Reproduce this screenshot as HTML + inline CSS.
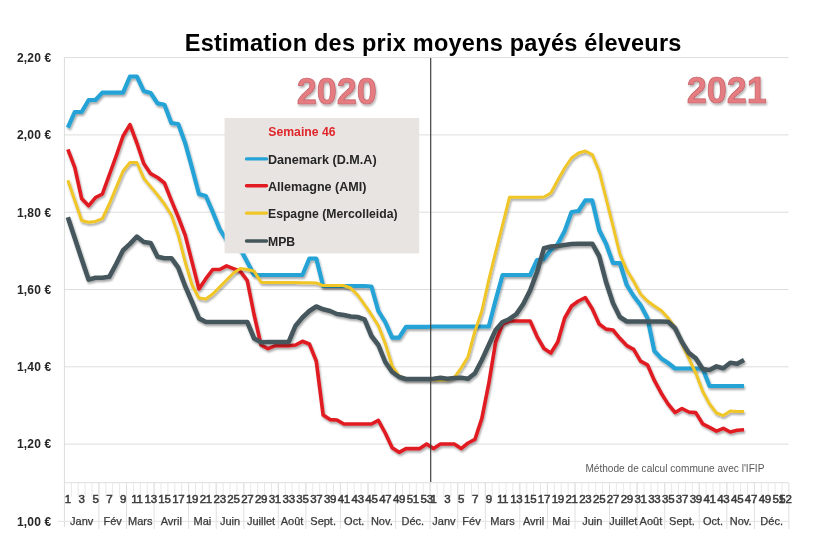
<!DOCTYPE html>
<html><head><meta charset="utf-8"><style>
html,body{margin:0;padding:0;background:#fff;width:820px;height:549px;overflow:hidden;}
svg{display:block;filter:blur(0.35px);}
text{font-family:"Liberation Sans",sans-serif;}
</style></head><body>
<svg width="820" height="549" viewBox="0 0 820 549">
<defs>
<filter id="sh" x="-10%" y="-10%" width="120%" height="120%">
<feGaussianBlur in="SourceAlpha" stdDeviation="1.2"/>
<feOffset dx="1.2" dy="1.6" result="o"/>
<feComponentTransfer><feFuncA type="linear" slope="0.35"/></feComponentTransfer>
<feMerge><feMergeNode/><feMergeNode in="SourceGraphic"/></feMerge>
</filter>
<filter id="tsh" x="-20%" y="-20%" width="140%" height="140%">
<feGaussianBlur in="SourceAlpha" stdDeviation="1"/>
<feOffset dx="1" dy="1.5" result="o"/>
<feComponentTransfer><feFuncA type="linear" slope="0.3"/></feComponentTransfer>
<feMerge><feMergeNode/><feMergeNode in="SourceGraphic"/></feMerge>
</filter>
</defs>
<rect width="820" height="549" fill="#fff"/>
<line x1="64.4" y1="57.6" x2="788.5" y2="57.6" stroke="#dedede" stroke-width="1"/>
<line x1="64.4" y1="134.9" x2="788.5" y2="134.9" stroke="#dedede" stroke-width="1"/>
<line x1="64.4" y1="212.2" x2="788.5" y2="212.2" stroke="#dedede" stroke-width="1"/>
<line x1="64.4" y1="289.5" x2="788.5" y2="289.5" stroke="#dedede" stroke-width="1"/>
<line x1="64.4" y1="366.8" x2="788.5" y2="366.8" stroke="#dedede" stroke-width="1"/>
<line x1="64.4" y1="444.1" x2="788.5" y2="444.1" stroke="#dedede" stroke-width="1"/>
<line x1="58" y1="521.4" x2="788.5" y2="521.4" stroke="#e4e4e4" stroke-width="1"/>
<line x1="64.4" y1="57.6" x2="64.4" y2="527" stroke="#dcdcdc" stroke-width="1"/>
<line x1="64.4" y1="482.7" x2="788.5" y2="482.7" stroke="#dedede" stroke-width="1"/>
<line x1="71.30" y1="482.7" x2="71.30" y2="497" stroke="#e8e8e8" stroke-width="1"/>
<line x1="78.20" y1="482.7" x2="78.20" y2="497" stroke="#e8e8e8" stroke-width="1"/>
<line x1="85.10" y1="482.7" x2="85.10" y2="497" stroke="#e8e8e8" stroke-width="1"/>
<line x1="92.00" y1="482.7" x2="92.00" y2="497" stroke="#e8e8e8" stroke-width="1"/>
<line x1="98.90" y1="482.7" x2="98.90" y2="497" stroke="#e8e8e8" stroke-width="1"/>
<line x1="105.80" y1="482.7" x2="105.80" y2="497" stroke="#e8e8e8" stroke-width="1"/>
<line x1="112.70" y1="482.7" x2="112.70" y2="497" stroke="#e8e8e8" stroke-width="1"/>
<line x1="119.60" y1="482.7" x2="119.60" y2="497" stroke="#e8e8e8" stroke-width="1"/>
<line x1="126.50" y1="482.7" x2="126.50" y2="497" stroke="#e8e8e8" stroke-width="1"/>
<line x1="133.40" y1="482.7" x2="133.40" y2="497" stroke="#e8e8e8" stroke-width="1"/>
<line x1="140.30" y1="482.7" x2="140.30" y2="497" stroke="#e8e8e8" stroke-width="1"/>
<line x1="147.20" y1="482.7" x2="147.20" y2="497" stroke="#e8e8e8" stroke-width="1"/>
<line x1="154.10" y1="482.7" x2="154.10" y2="497" stroke="#e8e8e8" stroke-width="1"/>
<line x1="161.00" y1="482.7" x2="161.00" y2="497" stroke="#e8e8e8" stroke-width="1"/>
<line x1="167.90" y1="482.7" x2="167.90" y2="497" stroke="#e8e8e8" stroke-width="1"/>
<line x1="174.80" y1="482.7" x2="174.80" y2="497" stroke="#e8e8e8" stroke-width="1"/>
<line x1="181.70" y1="482.7" x2="181.70" y2="497" stroke="#e8e8e8" stroke-width="1"/>
<line x1="188.60" y1="482.7" x2="188.60" y2="497" stroke="#e8e8e8" stroke-width="1"/>
<line x1="195.50" y1="482.7" x2="195.50" y2="497" stroke="#e8e8e8" stroke-width="1"/>
<line x1="202.40" y1="482.7" x2="202.40" y2="497" stroke="#e8e8e8" stroke-width="1"/>
<line x1="209.30" y1="482.7" x2="209.30" y2="497" stroke="#e8e8e8" stroke-width="1"/>
<line x1="216.20" y1="482.7" x2="216.20" y2="497" stroke="#e8e8e8" stroke-width="1"/>
<line x1="223.10" y1="482.7" x2="223.10" y2="497" stroke="#e8e8e8" stroke-width="1"/>
<line x1="230.00" y1="482.7" x2="230.00" y2="497" stroke="#e8e8e8" stroke-width="1"/>
<line x1="236.90" y1="482.7" x2="236.90" y2="497" stroke="#e8e8e8" stroke-width="1"/>
<line x1="243.80" y1="482.7" x2="243.80" y2="497" stroke="#e8e8e8" stroke-width="1"/>
<line x1="250.70" y1="482.7" x2="250.70" y2="497" stroke="#e8e8e8" stroke-width="1"/>
<line x1="257.60" y1="482.7" x2="257.60" y2="497" stroke="#e8e8e8" stroke-width="1"/>
<line x1="264.50" y1="482.7" x2="264.50" y2="497" stroke="#e8e8e8" stroke-width="1"/>
<line x1="271.40" y1="482.7" x2="271.40" y2="497" stroke="#e8e8e8" stroke-width="1"/>
<line x1="278.30" y1="482.7" x2="278.30" y2="497" stroke="#e8e8e8" stroke-width="1"/>
<line x1="285.20" y1="482.7" x2="285.20" y2="497" stroke="#e8e8e8" stroke-width="1"/>
<line x1="292.10" y1="482.7" x2="292.10" y2="497" stroke="#e8e8e8" stroke-width="1"/>
<line x1="299.00" y1="482.7" x2="299.00" y2="497" stroke="#e8e8e8" stroke-width="1"/>
<line x1="305.90" y1="482.7" x2="305.90" y2="497" stroke="#e8e8e8" stroke-width="1"/>
<line x1="312.80" y1="482.7" x2="312.80" y2="497" stroke="#e8e8e8" stroke-width="1"/>
<line x1="319.70" y1="482.7" x2="319.70" y2="497" stroke="#e8e8e8" stroke-width="1"/>
<line x1="326.60" y1="482.7" x2="326.60" y2="497" stroke="#e8e8e8" stroke-width="1"/>
<line x1="333.50" y1="482.7" x2="333.50" y2="497" stroke="#e8e8e8" stroke-width="1"/>
<line x1="340.40" y1="482.7" x2="340.40" y2="497" stroke="#e8e8e8" stroke-width="1"/>
<line x1="347.30" y1="482.7" x2="347.30" y2="497" stroke="#e8e8e8" stroke-width="1"/>
<line x1="354.20" y1="482.7" x2="354.20" y2="497" stroke="#e8e8e8" stroke-width="1"/>
<line x1="361.10" y1="482.7" x2="361.10" y2="497" stroke="#e8e8e8" stroke-width="1"/>
<line x1="368.00" y1="482.7" x2="368.00" y2="497" stroke="#e8e8e8" stroke-width="1"/>
<line x1="374.90" y1="482.7" x2="374.90" y2="497" stroke="#e8e8e8" stroke-width="1"/>
<line x1="381.80" y1="482.7" x2="381.80" y2="497" stroke="#e8e8e8" stroke-width="1"/>
<line x1="388.70" y1="482.7" x2="388.70" y2="497" stroke="#e8e8e8" stroke-width="1"/>
<line x1="395.60" y1="482.7" x2="395.60" y2="497" stroke="#e8e8e8" stroke-width="1"/>
<line x1="402.50" y1="482.7" x2="402.50" y2="497" stroke="#e8e8e8" stroke-width="1"/>
<line x1="409.40" y1="482.7" x2="409.40" y2="497" stroke="#e8e8e8" stroke-width="1"/>
<line x1="416.30" y1="482.7" x2="416.30" y2="497" stroke="#e8e8e8" stroke-width="1"/>
<line x1="423.20" y1="482.7" x2="423.20" y2="497" stroke="#e8e8e8" stroke-width="1"/>
<line x1="430.10" y1="482.7" x2="430.10" y2="497" stroke="#e8e8e8" stroke-width="1"/>
<line x1="437.00" y1="482.7" x2="437.00" y2="497" stroke="#e8e8e8" stroke-width="1"/>
<line x1="443.90" y1="482.7" x2="443.90" y2="497" stroke="#e8e8e8" stroke-width="1"/>
<line x1="450.80" y1="482.7" x2="450.80" y2="497" stroke="#e8e8e8" stroke-width="1"/>
<line x1="457.70" y1="482.7" x2="457.70" y2="497" stroke="#e8e8e8" stroke-width="1"/>
<line x1="464.60" y1="482.7" x2="464.60" y2="497" stroke="#e8e8e8" stroke-width="1"/>
<line x1="471.50" y1="482.7" x2="471.50" y2="497" stroke="#e8e8e8" stroke-width="1"/>
<line x1="478.40" y1="482.7" x2="478.40" y2="497" stroke="#e8e8e8" stroke-width="1"/>
<line x1="485.30" y1="482.7" x2="485.30" y2="497" stroke="#e8e8e8" stroke-width="1"/>
<line x1="492.20" y1="482.7" x2="492.20" y2="497" stroke="#e8e8e8" stroke-width="1"/>
<line x1="499.10" y1="482.7" x2="499.10" y2="497" stroke="#e8e8e8" stroke-width="1"/>
<line x1="506.00" y1="482.7" x2="506.00" y2="497" stroke="#e8e8e8" stroke-width="1"/>
<line x1="512.90" y1="482.7" x2="512.90" y2="497" stroke="#e8e8e8" stroke-width="1"/>
<line x1="519.80" y1="482.7" x2="519.80" y2="497" stroke="#e8e8e8" stroke-width="1"/>
<line x1="526.70" y1="482.7" x2="526.70" y2="497" stroke="#e8e8e8" stroke-width="1"/>
<line x1="533.60" y1="482.7" x2="533.60" y2="497" stroke="#e8e8e8" stroke-width="1"/>
<line x1="540.50" y1="482.7" x2="540.50" y2="497" stroke="#e8e8e8" stroke-width="1"/>
<line x1="547.40" y1="482.7" x2="547.40" y2="497" stroke="#e8e8e8" stroke-width="1"/>
<line x1="554.30" y1="482.7" x2="554.30" y2="497" stroke="#e8e8e8" stroke-width="1"/>
<line x1="561.20" y1="482.7" x2="561.20" y2="497" stroke="#e8e8e8" stroke-width="1"/>
<line x1="568.10" y1="482.7" x2="568.10" y2="497" stroke="#e8e8e8" stroke-width="1"/>
<line x1="575.00" y1="482.7" x2="575.00" y2="497" stroke="#e8e8e8" stroke-width="1"/>
<line x1="581.90" y1="482.7" x2="581.90" y2="497" stroke="#e8e8e8" stroke-width="1"/>
<line x1="588.80" y1="482.7" x2="588.80" y2="497" stroke="#e8e8e8" stroke-width="1"/>
<line x1="595.70" y1="482.7" x2="595.70" y2="497" stroke="#e8e8e8" stroke-width="1"/>
<line x1="602.60" y1="482.7" x2="602.60" y2="497" stroke="#e8e8e8" stroke-width="1"/>
<line x1="609.50" y1="482.7" x2="609.50" y2="497" stroke="#e8e8e8" stroke-width="1"/>
<line x1="616.40" y1="482.7" x2="616.40" y2="497" stroke="#e8e8e8" stroke-width="1"/>
<line x1="623.30" y1="482.7" x2="623.30" y2="497" stroke="#e8e8e8" stroke-width="1"/>
<line x1="630.20" y1="482.7" x2="630.20" y2="497" stroke="#e8e8e8" stroke-width="1"/>
<line x1="637.10" y1="482.7" x2="637.10" y2="497" stroke="#e8e8e8" stroke-width="1"/>
<line x1="644.00" y1="482.7" x2="644.00" y2="497" stroke="#e8e8e8" stroke-width="1"/>
<line x1="650.90" y1="482.7" x2="650.90" y2="497" stroke="#e8e8e8" stroke-width="1"/>
<line x1="657.80" y1="482.7" x2="657.80" y2="497" stroke="#e8e8e8" stroke-width="1"/>
<line x1="664.70" y1="482.7" x2="664.70" y2="497" stroke="#e8e8e8" stroke-width="1"/>
<line x1="671.60" y1="482.7" x2="671.60" y2="497" stroke="#e8e8e8" stroke-width="1"/>
<line x1="678.50" y1="482.7" x2="678.50" y2="497" stroke="#e8e8e8" stroke-width="1"/>
<line x1="685.40" y1="482.7" x2="685.40" y2="497" stroke="#e8e8e8" stroke-width="1"/>
<line x1="692.30" y1="482.7" x2="692.30" y2="497" stroke="#e8e8e8" stroke-width="1"/>
<line x1="699.20" y1="482.7" x2="699.20" y2="497" stroke="#e8e8e8" stroke-width="1"/>
<line x1="706.10" y1="482.7" x2="706.10" y2="497" stroke="#e8e8e8" stroke-width="1"/>
<line x1="713.00" y1="482.7" x2="713.00" y2="497" stroke="#e8e8e8" stroke-width="1"/>
<line x1="719.90" y1="482.7" x2="719.90" y2="497" stroke="#e8e8e8" stroke-width="1"/>
<line x1="726.80" y1="482.7" x2="726.80" y2="497" stroke="#e8e8e8" stroke-width="1"/>
<line x1="733.70" y1="482.7" x2="733.70" y2="497" stroke="#e8e8e8" stroke-width="1"/>
<line x1="740.60" y1="482.7" x2="740.60" y2="497" stroke="#e8e8e8" stroke-width="1"/>
<line x1="747.50" y1="482.7" x2="747.50" y2="497" stroke="#e8e8e8" stroke-width="1"/>
<line x1="754.40" y1="482.7" x2="754.40" y2="497" stroke="#e8e8e8" stroke-width="1"/>
<line x1="761.30" y1="482.7" x2="761.30" y2="497" stroke="#e8e8e8" stroke-width="1"/>
<line x1="768.20" y1="482.7" x2="768.20" y2="497" stroke="#e8e8e8" stroke-width="1"/>
<line x1="775.10" y1="482.7" x2="775.10" y2="497" stroke="#e8e8e8" stroke-width="1"/>
<line x1="782.00" y1="482.7" x2="782.00" y2="497" stroke="#e8e8e8" stroke-width="1"/>
<line x1="98.90" y1="482.7" x2="98.90" y2="529" stroke="#e0e0e0" stroke-width="1"/>
<line x1="126.50" y1="482.7" x2="126.50" y2="529" stroke="#e0e0e0" stroke-width="1"/>
<line x1="154.10" y1="482.7" x2="154.10" y2="529" stroke="#e0e0e0" stroke-width="1"/>
<line x1="188.60" y1="482.7" x2="188.60" y2="529" stroke="#e0e0e0" stroke-width="1"/>
<line x1="216.20" y1="482.7" x2="216.20" y2="529" stroke="#e0e0e0" stroke-width="1"/>
<line x1="243.80" y1="482.7" x2="243.80" y2="529" stroke="#e0e0e0" stroke-width="1"/>
<line x1="278.30" y1="482.7" x2="278.30" y2="529" stroke="#e0e0e0" stroke-width="1"/>
<line x1="305.90" y1="482.7" x2="305.90" y2="529" stroke="#e0e0e0" stroke-width="1"/>
<line x1="340.40" y1="482.7" x2="340.40" y2="529" stroke="#e0e0e0" stroke-width="1"/>
<line x1="368.00" y1="482.7" x2="368.00" y2="529" stroke="#e0e0e0" stroke-width="1"/>
<line x1="395.60" y1="482.7" x2="395.60" y2="529" stroke="#e0e0e0" stroke-width="1"/>
<line x1="430.10" y1="482.7" x2="430.10" y2="529" stroke="#e0e0e0" stroke-width="1"/>
<line x1="457.70" y1="482.7" x2="457.70" y2="529" stroke="#e0e0e0" stroke-width="1"/>
<line x1="485.30" y1="482.7" x2="485.30" y2="529" stroke="#e0e0e0" stroke-width="1"/>
<line x1="519.80" y1="482.7" x2="519.80" y2="529" stroke="#e0e0e0" stroke-width="1"/>
<line x1="547.40" y1="482.7" x2="547.40" y2="529" stroke="#e0e0e0" stroke-width="1"/>
<line x1="575.00" y1="482.7" x2="575.00" y2="529" stroke="#e0e0e0" stroke-width="1"/>
<line x1="609.50" y1="482.7" x2="609.50" y2="529" stroke="#e0e0e0" stroke-width="1"/>
<line x1="637.10" y1="482.7" x2="637.10" y2="529" stroke="#e0e0e0" stroke-width="1"/>
<line x1="664.70" y1="482.7" x2="664.70" y2="529" stroke="#e0e0e0" stroke-width="1"/>
<line x1="699.20" y1="482.7" x2="699.20" y2="529" stroke="#e0e0e0" stroke-width="1"/>
<line x1="726.80" y1="482.7" x2="726.80" y2="529" stroke="#e0e0e0" stroke-width="1"/>
<line x1="754.40" y1="482.7" x2="754.40" y2="529" stroke="#e0e0e0" stroke-width="1"/>
<line x1="788.90" y1="482.7" x2="788.90" y2="529" stroke="#e0e0e0" stroke-width="1"/>
<text x="51.5" y="61.9" text-anchor="end" font-family="Liberation Sans" font-weight="bold" font-size="12" letter-spacing="0.2" fill="#262626">2,20 €</text>
<text x="51.5" y="139.2" text-anchor="end" font-family="Liberation Sans" font-weight="bold" font-size="12" letter-spacing="0.2" fill="#262626">2,00 €</text>
<text x="51.5" y="216.5" text-anchor="end" font-family="Liberation Sans" font-weight="bold" font-size="12" letter-spacing="0.2" fill="#262626">1,80 €</text>
<text x="51.5" y="293.8" text-anchor="end" font-family="Liberation Sans" font-weight="bold" font-size="12" letter-spacing="0.2" fill="#262626">1,60 €</text>
<text x="51.5" y="371.1" text-anchor="end" font-family="Liberation Sans" font-weight="bold" font-size="12" letter-spacing="0.2" fill="#262626">1,40 €</text>
<text x="51.5" y="448.4" text-anchor="end" font-family="Liberation Sans" font-weight="bold" font-size="12" letter-spacing="0.2" fill="#262626">1,20 €</text>
<text x="51.5" y="525.7" text-anchor="end" font-family="Liberation Sans" font-weight="bold" font-size="12" letter-spacing="0.2" fill="#262626">1,00 €</text>
<text x="67.85" y="503" text-anchor="middle" font-family="Liberation Sans" font-size="11.5" fill="#3a3a3a" stroke="#3a3a3a" stroke-width="0.5" letter-spacing="-0.3">1</text>
<text x="81.65" y="503" text-anchor="middle" font-family="Liberation Sans" font-size="11.5" fill="#3a3a3a" stroke="#3a3a3a" stroke-width="0.5" letter-spacing="-0.3">3</text>
<text x="95.45" y="503" text-anchor="middle" font-family="Liberation Sans" font-size="11.5" fill="#3a3a3a" stroke="#3a3a3a" stroke-width="0.5" letter-spacing="-0.3">5</text>
<text x="109.25" y="503" text-anchor="middle" font-family="Liberation Sans" font-size="11.5" fill="#3a3a3a" stroke="#3a3a3a" stroke-width="0.5" letter-spacing="-0.3">7</text>
<text x="123.05" y="503" text-anchor="middle" font-family="Liberation Sans" font-size="11.5" fill="#3a3a3a" stroke="#3a3a3a" stroke-width="0.5" letter-spacing="-0.3">9</text>
<text x="136.85" y="503" text-anchor="middle" font-family="Liberation Sans" font-size="11.5" fill="#3a3a3a" stroke="#3a3a3a" stroke-width="0.5" letter-spacing="-0.3">11</text>
<text x="150.65" y="503" text-anchor="middle" font-family="Liberation Sans" font-size="11.5" fill="#3a3a3a" stroke="#3a3a3a" stroke-width="0.5" letter-spacing="-0.3">13</text>
<text x="164.45" y="503" text-anchor="middle" font-family="Liberation Sans" font-size="11.5" fill="#3a3a3a" stroke="#3a3a3a" stroke-width="0.5" letter-spacing="-0.3">15</text>
<text x="178.25" y="503" text-anchor="middle" font-family="Liberation Sans" font-size="11.5" fill="#3a3a3a" stroke="#3a3a3a" stroke-width="0.5" letter-spacing="-0.3">17</text>
<text x="192.05" y="503" text-anchor="middle" font-family="Liberation Sans" font-size="11.5" fill="#3a3a3a" stroke="#3a3a3a" stroke-width="0.5" letter-spacing="-0.3">19</text>
<text x="205.85" y="503" text-anchor="middle" font-family="Liberation Sans" font-size="11.5" fill="#3a3a3a" stroke="#3a3a3a" stroke-width="0.5" letter-spacing="-0.3">21</text>
<text x="219.65" y="503" text-anchor="middle" font-family="Liberation Sans" font-size="11.5" fill="#3a3a3a" stroke="#3a3a3a" stroke-width="0.5" letter-spacing="-0.3">23</text>
<text x="233.45" y="503" text-anchor="middle" font-family="Liberation Sans" font-size="11.5" fill="#3a3a3a" stroke="#3a3a3a" stroke-width="0.5" letter-spacing="-0.3">25</text>
<text x="247.25" y="503" text-anchor="middle" font-family="Liberation Sans" font-size="11.5" fill="#3a3a3a" stroke="#3a3a3a" stroke-width="0.5" letter-spacing="-0.3">27</text>
<text x="261.05" y="503" text-anchor="middle" font-family="Liberation Sans" font-size="11.5" fill="#3a3a3a" stroke="#3a3a3a" stroke-width="0.5" letter-spacing="-0.3">29</text>
<text x="274.85" y="503" text-anchor="middle" font-family="Liberation Sans" font-size="11.5" fill="#3a3a3a" stroke="#3a3a3a" stroke-width="0.5" letter-spacing="-0.3">31</text>
<text x="288.65" y="503" text-anchor="middle" font-family="Liberation Sans" font-size="11.5" fill="#3a3a3a" stroke="#3a3a3a" stroke-width="0.5" letter-spacing="-0.3">33</text>
<text x="302.45" y="503" text-anchor="middle" font-family="Liberation Sans" font-size="11.5" fill="#3a3a3a" stroke="#3a3a3a" stroke-width="0.5" letter-spacing="-0.3">35</text>
<text x="316.25" y="503" text-anchor="middle" font-family="Liberation Sans" font-size="11.5" fill="#3a3a3a" stroke="#3a3a3a" stroke-width="0.5" letter-spacing="-0.3">37</text>
<text x="330.05" y="503" text-anchor="middle" font-family="Liberation Sans" font-size="11.5" fill="#3a3a3a" stroke="#3a3a3a" stroke-width="0.5" letter-spacing="-0.3">39</text>
<text x="343.85" y="503" text-anchor="middle" font-family="Liberation Sans" font-size="11.5" fill="#3a3a3a" stroke="#3a3a3a" stroke-width="0.5" letter-spacing="-0.3">41</text>
<text x="357.65" y="503" text-anchor="middle" font-family="Liberation Sans" font-size="11.5" fill="#3a3a3a" stroke="#3a3a3a" stroke-width="0.5" letter-spacing="-0.3">43</text>
<text x="371.45" y="503" text-anchor="middle" font-family="Liberation Sans" font-size="11.5" fill="#3a3a3a" stroke="#3a3a3a" stroke-width="0.5" letter-spacing="-0.3">45</text>
<text x="385.25" y="503" text-anchor="middle" font-family="Liberation Sans" font-size="11.5" fill="#3a3a3a" stroke="#3a3a3a" stroke-width="0.5" letter-spacing="-0.3">47</text>
<text x="399.05" y="503" text-anchor="middle" font-family="Liberation Sans" font-size="11.5" fill="#3a3a3a" stroke="#3a3a3a" stroke-width="0.5" letter-spacing="-0.3">49</text>
<text x="412.85" y="503" text-anchor="middle" font-family="Liberation Sans" font-size="11.5" fill="#3a3a3a" stroke="#3a3a3a" stroke-width="0.5" letter-spacing="-0.3">51</text>
<text x="426.65" y="503" text-anchor="middle" font-family="Liberation Sans" font-size="11.5" fill="#3a3a3a" stroke="#3a3a3a" stroke-width="0.5" letter-spacing="-0.3">53</text>
<text x="433.55" y="503" text-anchor="middle" font-family="Liberation Sans" font-size="11.5" fill="#3a3a3a" stroke="#3a3a3a" stroke-width="0.5" letter-spacing="-0.3">1</text>
<text x="447.35" y="503" text-anchor="middle" font-family="Liberation Sans" font-size="11.5" fill="#3a3a3a" stroke="#3a3a3a" stroke-width="0.5" letter-spacing="-0.3">3</text>
<text x="461.15" y="503" text-anchor="middle" font-family="Liberation Sans" font-size="11.5" fill="#3a3a3a" stroke="#3a3a3a" stroke-width="0.5" letter-spacing="-0.3">5</text>
<text x="474.95" y="503" text-anchor="middle" font-family="Liberation Sans" font-size="11.5" fill="#3a3a3a" stroke="#3a3a3a" stroke-width="0.5" letter-spacing="-0.3">7</text>
<text x="488.75" y="503" text-anchor="middle" font-family="Liberation Sans" font-size="11.5" fill="#3a3a3a" stroke="#3a3a3a" stroke-width="0.5" letter-spacing="-0.3">9</text>
<text x="502.55" y="503" text-anchor="middle" font-family="Liberation Sans" font-size="11.5" fill="#3a3a3a" stroke="#3a3a3a" stroke-width="0.5" letter-spacing="-0.3">11</text>
<text x="516.35" y="503" text-anchor="middle" font-family="Liberation Sans" font-size="11.5" fill="#3a3a3a" stroke="#3a3a3a" stroke-width="0.5" letter-spacing="-0.3">13</text>
<text x="530.15" y="503" text-anchor="middle" font-family="Liberation Sans" font-size="11.5" fill="#3a3a3a" stroke="#3a3a3a" stroke-width="0.5" letter-spacing="-0.3">15</text>
<text x="543.95" y="503" text-anchor="middle" font-family="Liberation Sans" font-size="11.5" fill="#3a3a3a" stroke="#3a3a3a" stroke-width="0.5" letter-spacing="-0.3">17</text>
<text x="557.75" y="503" text-anchor="middle" font-family="Liberation Sans" font-size="11.5" fill="#3a3a3a" stroke="#3a3a3a" stroke-width="0.5" letter-spacing="-0.3">19</text>
<text x="571.55" y="503" text-anchor="middle" font-family="Liberation Sans" font-size="11.5" fill="#3a3a3a" stroke="#3a3a3a" stroke-width="0.5" letter-spacing="-0.3">21</text>
<text x="585.35" y="503" text-anchor="middle" font-family="Liberation Sans" font-size="11.5" fill="#3a3a3a" stroke="#3a3a3a" stroke-width="0.5" letter-spacing="-0.3">23</text>
<text x="599.15" y="503" text-anchor="middle" font-family="Liberation Sans" font-size="11.5" fill="#3a3a3a" stroke="#3a3a3a" stroke-width="0.5" letter-spacing="-0.3">25</text>
<text x="612.95" y="503" text-anchor="middle" font-family="Liberation Sans" font-size="11.5" fill="#3a3a3a" stroke="#3a3a3a" stroke-width="0.5" letter-spacing="-0.3">27</text>
<text x="626.75" y="503" text-anchor="middle" font-family="Liberation Sans" font-size="11.5" fill="#3a3a3a" stroke="#3a3a3a" stroke-width="0.5" letter-spacing="-0.3">29</text>
<text x="640.55" y="503" text-anchor="middle" font-family="Liberation Sans" font-size="11.5" fill="#3a3a3a" stroke="#3a3a3a" stroke-width="0.5" letter-spacing="-0.3">31</text>
<text x="654.35" y="503" text-anchor="middle" font-family="Liberation Sans" font-size="11.5" fill="#3a3a3a" stroke="#3a3a3a" stroke-width="0.5" letter-spacing="-0.3">33</text>
<text x="668.15" y="503" text-anchor="middle" font-family="Liberation Sans" font-size="11.5" fill="#3a3a3a" stroke="#3a3a3a" stroke-width="0.5" letter-spacing="-0.3">35</text>
<text x="681.95" y="503" text-anchor="middle" font-family="Liberation Sans" font-size="11.5" fill="#3a3a3a" stroke="#3a3a3a" stroke-width="0.5" letter-spacing="-0.3">37</text>
<text x="695.75" y="503" text-anchor="middle" font-family="Liberation Sans" font-size="11.5" fill="#3a3a3a" stroke="#3a3a3a" stroke-width="0.5" letter-spacing="-0.3">39</text>
<text x="709.55" y="503" text-anchor="middle" font-family="Liberation Sans" font-size="11.5" fill="#3a3a3a" stroke="#3a3a3a" stroke-width="0.5" letter-spacing="-0.3">41</text>
<text x="723.35" y="503" text-anchor="middle" font-family="Liberation Sans" font-size="11.5" fill="#3a3a3a" stroke="#3a3a3a" stroke-width="0.5" letter-spacing="-0.3">43</text>
<text x="737.15" y="503" text-anchor="middle" font-family="Liberation Sans" font-size="11.5" fill="#3a3a3a" stroke="#3a3a3a" stroke-width="0.5" letter-spacing="-0.3">45</text>
<text x="750.95" y="503" text-anchor="middle" font-family="Liberation Sans" font-size="11.5" fill="#3a3a3a" stroke="#3a3a3a" stroke-width="0.5" letter-spacing="-0.3">47</text>
<text x="764.75" y="503" text-anchor="middle" font-family="Liberation Sans" font-size="11.5" fill="#3a3a3a" stroke="#3a3a3a" stroke-width="0.5" letter-spacing="-0.3">49</text>
<text x="778.55" y="503" text-anchor="middle" font-family="Liberation Sans" font-size="11.5" fill="#3a3a3a" stroke="#3a3a3a" stroke-width="0.5" letter-spacing="-0.3">51</text>
<text x="785.45" y="503" text-anchor="middle" font-family="Liberation Sans" font-size="11.5" fill="#3a3a3a" stroke="#3a3a3a" stroke-width="0.5" letter-spacing="-0.3">52</text>
<text x="81.65" y="525" text-anchor="middle" font-family="Liberation Sans" font-size="11" fill="#3a3a3a" stroke="#3a3a3a" stroke-width="0.25">Janv</text>
<text x="112.70" y="525" text-anchor="middle" font-family="Liberation Sans" font-size="11" fill="#3a3a3a" stroke="#3a3a3a" stroke-width="0.25">Fév</text>
<text x="140.30" y="525" text-anchor="middle" font-family="Liberation Sans" font-size="11" fill="#3a3a3a" stroke="#3a3a3a" stroke-width="0.25">Mars</text>
<text x="171.35" y="525" text-anchor="middle" font-family="Liberation Sans" font-size="11" fill="#3a3a3a" stroke="#3a3a3a" stroke-width="0.25">Avril</text>
<text x="202.40" y="525" text-anchor="middle" font-family="Liberation Sans" font-size="11" fill="#3a3a3a" stroke="#3a3a3a" stroke-width="0.25">Mai</text>
<text x="230.00" y="525" text-anchor="middle" font-family="Liberation Sans" font-size="11" fill="#3a3a3a" stroke="#3a3a3a" stroke-width="0.25">Juin</text>
<text x="261.05" y="525" text-anchor="middle" font-family="Liberation Sans" font-size="11" fill="#3a3a3a" stroke="#3a3a3a" stroke-width="0.25">Juillet</text>
<text x="292.10" y="525" text-anchor="middle" font-family="Liberation Sans" font-size="11" fill="#3a3a3a" stroke="#3a3a3a" stroke-width="0.25">Août</text>
<text x="323.15" y="525" text-anchor="middle" font-family="Liberation Sans" font-size="11" fill="#3a3a3a" stroke="#3a3a3a" stroke-width="0.25">Sept.</text>
<text x="354.20" y="525" text-anchor="middle" font-family="Liberation Sans" font-size="11" fill="#3a3a3a" stroke="#3a3a3a" stroke-width="0.25">Oct.</text>
<text x="381.80" y="525" text-anchor="middle" font-family="Liberation Sans" font-size="11" fill="#3a3a3a" stroke="#3a3a3a" stroke-width="0.25">Nov.</text>
<text x="412.85" y="525" text-anchor="middle" font-family="Liberation Sans" font-size="11" fill="#3a3a3a" stroke="#3a3a3a" stroke-width="0.25">Déc.</text>
<text x="443.90" y="525" text-anchor="middle" font-family="Liberation Sans" font-size="11" fill="#3a3a3a" stroke="#3a3a3a" stroke-width="0.25">Janv</text>
<text x="471.50" y="525" text-anchor="middle" font-family="Liberation Sans" font-size="11" fill="#3a3a3a" stroke="#3a3a3a" stroke-width="0.25">Fév</text>
<text x="502.55" y="525" text-anchor="middle" font-family="Liberation Sans" font-size="11" fill="#3a3a3a" stroke="#3a3a3a" stroke-width="0.25">Mars</text>
<text x="533.60" y="525" text-anchor="middle" font-family="Liberation Sans" font-size="11" fill="#3a3a3a" stroke="#3a3a3a" stroke-width="0.25">Avril</text>
<text x="561.20" y="525" text-anchor="middle" font-family="Liberation Sans" font-size="11" fill="#3a3a3a" stroke="#3a3a3a" stroke-width="0.25">Mai</text>
<text x="592.25" y="525" text-anchor="middle" font-family="Liberation Sans" font-size="11" fill="#3a3a3a" stroke="#3a3a3a" stroke-width="0.25">Juin</text>
<text x="623.30" y="525" text-anchor="middle" font-family="Liberation Sans" font-size="11" fill="#3a3a3a" stroke="#3a3a3a" stroke-width="0.25">Juillet</text>
<text x="650.90" y="525" text-anchor="middle" font-family="Liberation Sans" font-size="11" fill="#3a3a3a" stroke="#3a3a3a" stroke-width="0.25">Août</text>
<text x="681.95" y="525" text-anchor="middle" font-family="Liberation Sans" font-size="11" fill="#3a3a3a" stroke="#3a3a3a" stroke-width="0.25">Sept.</text>
<text x="713.00" y="525" text-anchor="middle" font-family="Liberation Sans" font-size="11" fill="#3a3a3a" stroke="#3a3a3a" stroke-width="0.25">Oct.</text>
<text x="740.60" y="525" text-anchor="middle" font-family="Liberation Sans" font-size="11" fill="#3a3a3a" stroke="#3a3a3a" stroke-width="0.25">Nov.</text>
<text x="771.65" y="525" text-anchor="middle" font-family="Liberation Sans" font-size="11" fill="#3a3a3a" stroke="#3a3a3a" stroke-width="0.25">Déc.</text>
<polyline points="67.85,127.7 74.75,112.0 81.65,112.0 88.55,100.2 95.45,100.0 102.35,92.6 109.25,92.6 116.15,92.6 123.05,92.6 129.95,76.5 136.85,76.5 143.75,91.0 150.65,93.0 157.55,103.4 164.45,104.8 171.35,123.0 178.25,124.0 185.15,143.0 192.05,168.0 198.95,194.0 205.85,196.0 212.75,212.0 219.65,229.0 226.55,240.0 233.45,242.0 240.35,249.0 247.25,262.0 254.15,275.0 261.05,275.0 267.95,275.0 274.85,275.0 281.75,275.0 288.65,275.0 295.55,275.0 302.45,275.0 309.35,258.5 316.25,258.5 323.15,286.0 330.05,286.0 336.95,286.0 343.85,286.0 350.75,286.0 357.65,286.0 364.55,286.0 371.45,286.5 378.35,311.0 385.25,322.0 392.15,337.7 399.05,337.7 405.95,326.8 412.85,326.8 419.75,326.8 426.65,326.8 433.55,326.5 440.45,326.5 447.35,326.5 454.25,326.5 461.15,326.5 468.05,326.5 474.95,326.5 481.85,326.5 488.75,326.5 495.65,300.0 502.55,275.0 509.45,275.0 516.35,275.0 523.25,275.0 530.15,275.0 537.05,260.0 543.95,259.0 550.85,250.0 557.75,244.0 564.65,231.0 571.55,212.0 578.45,211.0 585.35,200.4 592.25,200.4 599.15,230.0 606.05,243.7 612.95,263.0 619.85,263.0 626.75,285.0 633.65,296.0 640.55,305.0 647.45,318.0 654.35,351.0 661.25,358.4 668.15,363.0 675.05,368.5 681.95,368.5 688.85,368.5 695.75,368.5 702.65,368.5 709.55,386.0 716.45,386.0 723.35,386.0 730.25,386.0 737.15,386.0 744.05,386.0" stroke="#25a3d6" stroke-width="4.2" fill="none" stroke-linejoin="round" stroke-linecap="butt" filter="url(#sh)"/>
<polyline points="67.85,149.3 74.75,167.4 81.65,198.5 88.55,205.8 95.45,197.6 102.35,194.0 109.25,175.0 116.15,156.0 123.05,136.0 129.95,124.6 136.85,143.0 143.75,163.5 150.65,173.7 157.55,177.5 164.45,183.0 171.35,200.4 178.25,217.0 185.15,235.0 192.05,262.0 198.95,289.0 205.85,278.7 212.75,269.5 219.65,269.5 226.55,265.8 233.45,268.6 240.35,271.3 247.25,280.5 254.15,315.0 261.05,345.0 267.95,348.6 274.85,345.8 281.75,345.8 288.65,345.8 295.55,345.0 302.45,341.3 309.35,344.0 316.25,361.0 323.15,415.0 330.05,419.6 336.95,420.0 343.85,424.0 350.75,424.0 357.65,424.0 364.55,424.0 371.45,424.0 378.35,420.3 385.25,433.0 392.15,447.7 399.05,452.3 405.95,448.6 412.85,448.6 419.75,448.6 426.65,444.0 433.55,448.6 440.45,444.0 447.35,444.0 454.25,444.0 461.15,448.6 468.05,443.0 474.95,439.4 481.85,418.4 488.75,383.7 495.65,342.0 502.55,324.0 509.45,321.0 516.35,321.0 523.25,321.0 530.15,321.0 537.05,336.6 543.95,348.5 550.85,353.0 557.75,342.0 564.65,318.0 571.55,306.0 578.45,301.0 585.35,297.7 592.25,308.7 599.15,324.0 606.05,329.1 612.95,330.0 619.85,338.3 626.75,345.6 633.65,349.3 640.55,361.2 647.45,364.8 654.35,380.4 661.25,393.2 668.15,404.1 675.05,412.5 681.95,408.5 688.85,412.0 695.75,412.6 702.65,423.8 709.55,427.4 716.45,431.1 723.35,428.3 730.25,432.0 737.15,430.2 744.05,429.8" stroke="#e01b22" stroke-width="3.6" fill="none" stroke-linejoin="round" stroke-linecap="butt" filter="url(#sh)"/>
<polyline points="67.85,180.2 74.75,200.4 81.65,220.5 88.55,222.3 95.45,221.4 102.35,218.7 109.25,204.0 116.15,187.6 123.05,171.0 129.95,162.5 136.85,162.5 143.75,178.4 150.65,186.6 157.55,194.9 164.45,204.0 171.35,215.0 178.25,235.0 185.15,262.0 192.05,285.0 198.95,298.0 205.85,299.0 212.75,294.0 219.65,287.0 226.55,280.0 233.45,273.0 240.35,268.6 247.25,269.5 254.15,271.3 261.05,282.3 267.95,282.5 274.85,282.5 281.75,282.5 288.65,282.5 295.55,282.5 302.45,282.7 309.35,282.8 316.25,282.9 323.15,285.6 330.05,285.6 336.95,285.6 343.85,285.6 350.75,288.0 357.65,295.0 364.55,304.7 371.45,314.7 378.35,325.8 385.25,343.4 392.15,366.0 399.05,376.0 405.95,379.0 412.85,379.0 419.75,379.0 426.65,379.0 433.55,380.0 440.45,380.0 447.35,380.0 454.25,377.7 461.15,368.0 468.05,356.7 474.95,331.0 481.85,311.0 488.75,280.0 495.65,252.0 502.55,225.0 509.45,197.3 516.35,197.3 523.25,197.3 530.15,197.3 537.05,197.3 543.95,197.0 550.85,193.0 557.75,180.2 564.65,168.0 571.55,158.0 578.45,153.0 585.35,151.0 592.25,154.6 599.15,171.0 606.05,198.5 612.95,226.0 619.85,254.0 626.75,270.0 633.65,281.2 640.55,294.0 647.45,301.0 654.35,306.0 661.25,310.5 668.15,318.0 675.05,327.3 681.95,343.8 688.85,358.4 695.75,373.0 702.65,391.3 709.55,404.0 716.45,413.0 723.35,415.6 730.25,411.0 737.15,411.5 744.05,411.5" stroke="#f0c528" stroke-width="3" fill="none" stroke-linejoin="round" stroke-linecap="butt" filter="url(#sh)"/>
<polyline points="67.85,217.2 74.75,238.0 81.65,259.0 88.55,279.6 95.45,277.7 102.35,277.7 109.25,276.8 116.15,264.0 123.05,250.3 129.95,243.9 136.85,236.6 143.75,242.0 150.65,243.0 157.55,256.7 164.45,258.2 171.35,258.2 178.25,267.7 185.15,286.0 192.05,302.0 198.95,318.4 205.85,322.0 212.75,322.0 219.65,322.0 226.55,322.0 233.45,322.0 240.35,322.0 247.25,322.0 254.15,338.5 261.05,342.2 267.95,342.0 274.85,342.0 281.75,342.0 288.65,342.0 295.55,325.7 302.45,317.5 309.35,311.0 316.25,306.5 323.15,309.3 330.05,311.0 336.95,314.0 343.85,315.0 350.75,316.5 357.65,317.0 364.55,319.4 371.45,336.0 378.35,345.0 385.25,362.0 392.15,372.0 399.05,377.0 405.95,379.0 412.85,379.0 419.75,379.0 426.65,379.0 433.55,378.7 440.45,377.8 447.35,378.7 454.25,378.0 461.15,377.7 468.05,378.7 474.95,373.2 481.85,360.0 488.75,345.0 495.65,330.0 502.55,322.0 509.45,319.0 516.35,314.1 523.25,304.0 530.15,290.4 537.05,272.0 543.95,248.3 550.85,246.5 557.75,246.0 564.65,245.0 571.55,244.0 578.45,243.7 585.35,243.7 592.25,243.7 599.15,256.0 606.05,282.0 612.95,303.0 619.85,317.0 626.75,321.5 633.65,321.5 640.55,321.5 647.45,321.5 654.35,321.5 661.25,321.5 668.15,321.8 675.05,328.2 681.95,342.0 688.85,352.9 695.75,358.2 702.65,369.1 709.55,370.0 716.45,366.4 723.35,368.2 730.25,362.8 737.15,363.7 744.05,360.0" stroke="#45565b" stroke-width="4.6" fill="none" stroke-linejoin="round" stroke-linecap="butt" filter="url(#sh)"/>
<line x1="430.7" y1="58" x2="430.7" y2="482" stroke="#404040" stroke-width="1.2"/>
<rect x="224.6" y="118" width="194.6" height="135.4" fill="#e8e4e1"/>
<text x="268.3" y="135.5" font-family="Liberation Sans" font-weight="bold" font-size="12" textLength="67.2" lengthAdjust="spacingAndGlyphs" fill="#e0262b">Semaine 46</text>
<line x1="246.5" y1="158.9" x2="266.5" y2="158.9" stroke="#25a3d6" stroke-width="3.4" stroke-linecap="round"/>
<text x="268" y="163.7" font-family="Liberation Sans" font-weight="bold" font-size="12" textLength="108.6" lengthAdjust="spacingAndGlyphs" fill="#262626">Danemark (D.M.A)</text>
<line x1="246.5" y1="185.8" x2="266.5" y2="185.8" stroke="#e01b22" stroke-width="3.4" stroke-linecap="round"/>
<text x="268" y="190.6" font-family="Liberation Sans" font-weight="bold" font-size="12" textLength="98.5" lengthAdjust="spacingAndGlyphs" fill="#262626">Allemagne (AMI)</text>
<line x1="246.5" y1="213.1" x2="266.5" y2="213.1" stroke="#f0c528" stroke-width="3.4" stroke-linecap="round"/>
<text x="268" y="217.9" font-family="Liberation Sans" font-weight="bold" font-size="12" textLength="129.5" lengthAdjust="spacingAndGlyphs" fill="#262626">Espagne (Mercolleida)</text>
<line x1="246.5" y1="241" x2="266.5" y2="241" stroke="#45565b" stroke-width="3.4" stroke-linecap="round"/>
<text x="268" y="245.8" font-family="Liberation Sans" font-weight="bold" font-size="12" textLength="27.2" lengthAdjust="spacingAndGlyphs" fill="#262626">MPB</text>
<text x="184.8" y="51.3" font-family="Liberation Sans" font-weight="bold" font-size="23.5" textLength="496.6" lengthAdjust="spacing" fill="#000">Estimation des prix moyens payés éleveurs</text>
<text x="296.8" y="104" font-family="Liberation Sans" font-weight="bold" font-size="36" fill="#e47c81" stroke="#c46268" stroke-width="0.7" filter="url(#tsh)">2020</text>
<text x="686.8" y="103" font-family="Liberation Sans" font-weight="bold" font-size="36" fill="#e47c81" stroke="#c46268" stroke-width="0.7" filter="url(#tsh)">2021</text>
<text x="585.4" y="472" font-family="Liberation Sans" font-size="10.1" textLength="179" lengthAdjust="spacingAndGlyphs" fill="#595959">Méthode de calcul commune avec l'IFIP</text>
</svg>
</body></html>
